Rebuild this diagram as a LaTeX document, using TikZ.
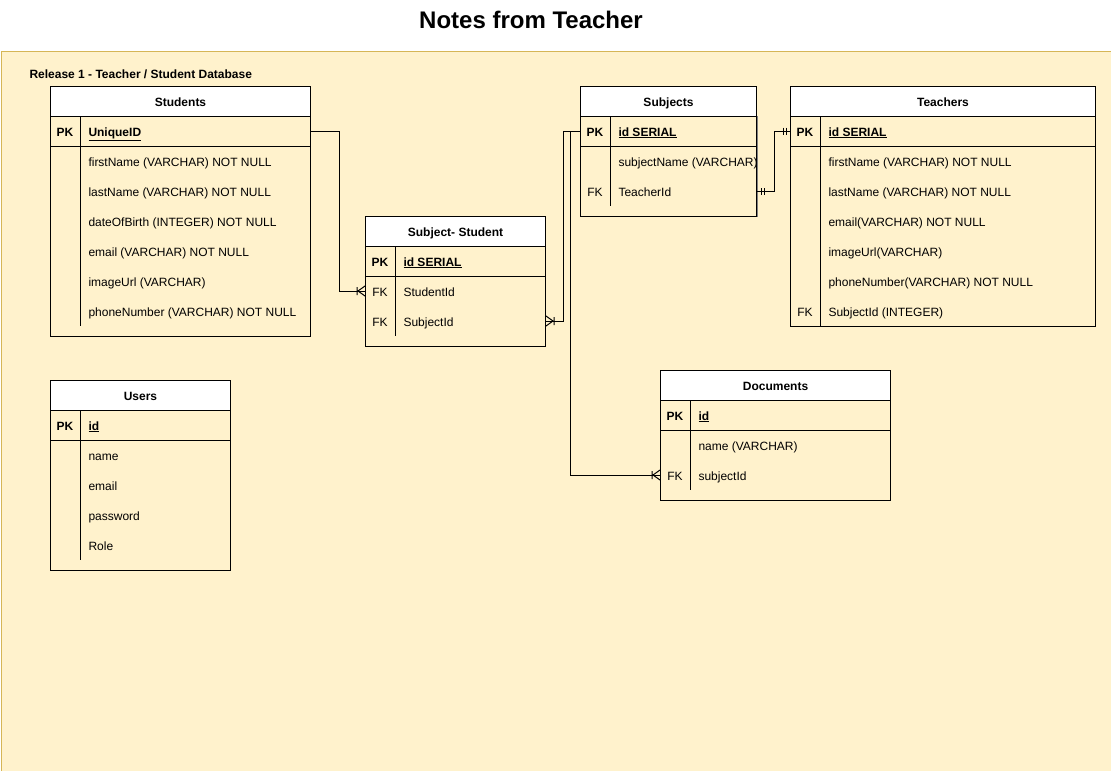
\documentclass[tikz,border=0pt]{standalone}
\usepackage{fontspec}
\setmainfont{Liberation Sans}

\definecolor{notefill}{HTML}{FFF2CC}
\definecolor{noteline}{HTML}{D6B656}
\definecolor{edgegray}{HTML}{808080}

\tikzset{
  crow/.pic={\draw (-7,0) -- (0,-5) (-7,0) -- (0,5) (-8,-4) -- (-8,4);},
  mandone/.pic={\draw (-4,-3.5) -- (-4,3.5) (-7,-3.5) -- (-7,3.5);}
}

\begin{document}
\begin{tikzpicture}[x=1pt,y=-1pt,line width=1pt]
\tikzstyle{head}=[draw,fill=white,anchor=north west,minimum height=30pt,inner sep=0pt,text height=10pt,text depth=0pt,font=\bfseries\fontsize{12}{14}\selectfont];
\tikzstyle{body}=[draw,anchor=north west,inner sep=0pt];
\tikzstyle{pk}=[inner sep=0pt,text height=10pt,text depth=0pt,font=\bfseries\fontsize{12}{14}\selectfont];
\tikzstyle{fk}=[inner sep=0pt,text height=10pt,text depth=0pt,font=\fontsize{12}{14}\selectfont];
\tikzstyle{field}=[anchor=west,inner sep=0pt,text height=10pt,text depth=0pt,font=\fontsize{12}{14}\selectfont];
\tikzstyle{pkfield}=[field,font=\bfseries\fontsize{12}{14}\selectfont];
\tikzstyle{rel}=[line cap=rect];

\useasboundingbox (0,0) rectangle (1111,771);

% title and note
\node[font=\bfseries\fontsize{24}{28}\selectfont] (title) at (531,20) {Notes from Teacher};
\node[draw=noteline,fill=notefill,anchor=north west,minimum width=1110pt,minimum height=720pt,inner sep=0pt] (note) at (0.5,50.5) {};
\node[pkfield] (release) at (29,73) {Release 1 - Teacher / Student Database};

% Students
\node[head,minimum width=260pt] (stuHead) at (50,86) {Students};
\node[body,minimum width=260pt,minimum height=220pt] (stuBody) at (50,116) {};
\draw (50,146) -- (310,146);
\draw (80,116) -- (80,326);
\node[pk] (stuK1) at (65,131) {PK};
\node[pkfield] (stuUid) at (88,131) {\underline{UniqueID}};
\node[field] (stuF1) at (88,161) {firstName (VARCHAR) NOT NULL};
\node[field] (stuF2) at (88,191) {lastName (VARCHAR) NOT NULL};
\node[field] (stuF3) at (88,221) {dateOfBirth (INTEGER) NOT NULL};
\node[field] (stuF4) at (88,251) {email (VARCHAR) NOT NULL};
\node[field] (stuF5) at (88,281) {imageUrl (VARCHAR)};
\node[field] (stuF6) at (88,311) {phoneNumber (VARCHAR) NOT NULL};

% Subject- Student
\node[head,minimum width=180pt] (ssHead) at (365,216) {Subject- Student};
\node[body,minimum width=180pt,minimum height=100pt] (ssBody) at (365,246) {};
\draw (365,276) -- (545,276);
\draw (395,246) -- (395,336);
\node[pk] (ssK1) at (380,261) {PK};
\node[pkfield] (ssId) at (403,261) {\underline{id SERIAL}};
\node[fk] (ssK2) at (380,291) {FK};
\node[field] (ssStu) at (403,291) {StudentId};
\node[fk] (ssK3) at (380,321) {FK};
\node[field] (ssSub) at (403,321) {SubjectId};

% Subjects
\node[head,minimum width=176pt] (subHead) at (580,86) {Subjects};
\node[body,minimum width=176pt,minimum height=100pt] (subBody) at (580,116) {};
\draw (580,146) -- (756,146);
\draw (610,116) -- (610,206);
\node[pk] (subK1) at (595,131) {PK};
\node[pkfield] (subPid) at (618,131) {\underline{id SERIAL}};
\node[field] (subF1) at (618,161) {subjectName (VARCHAR)};
\node[fk] (subK2) at (595,191) {FK};
\node[field] (subTid) at (618,191) {TeacherId};
\draw[edgegray] (subBody.north east) -- (subBody.south east);

% Teachers
\node[head,minimum width=305pt] (teaHead) at (790,86) {Teachers};
\node[body,minimum width=305pt,minimum height=210pt] (teaBody) at (790,116) {};
\draw (790,146) -- (1095,146);
\draw (820,116) -- (820,326);
\node[pk] (teaK1) at (805,131) {PK};
\node[pkfield] (teaPid) at (828,131) {\underline{id SERIAL}};
\node[field] (teaF1) at (828,161) {firstName (VARCHAR) NOT NULL};
\node[field] (teaF2) at (828,191) {lastName (VARCHAR) NOT NULL};
\node[field] (teaF3) at (828,221) {email(VARCHAR) NOT NULL};
\node[field] (teaF4) at (828,251) {imageUrl(VARCHAR)};
\node[field] (teaF5) at (828,281) {phoneNumber(VARCHAR) NOT NULL};
\node[fk] (teaK2) at (805,311) {FK};
\node[field] (teaSid) at (828,311) {SubjectId (INTEGER)};

% Documents
\node[head,minimum width=230pt] (docHead) at (660,370) {Documents};
\node[body,minimum width=230pt,minimum height=100pt] (docBody) at (660,400) {};
\draw (660,430) -- (890,430);
\draw (690,400) -- (690,490);
\node[pk] (docK1) at (675,415) {PK};
\node[pkfield] (docId) at (698,415) {\underline{id}};
\node[field] (docF1) at (698,445) {name (VARCHAR)};
\node[fk] (docK2) at (675,475) {FK};
\node[field] (docSid) at (698,475) {subjectId};

% Users
\node[head,minimum width=180pt] (usrHead) at (50,380) {Users};
\node[body,minimum width=180pt,minimum height=160pt] (usrBody) at (50,410) {};
\draw (50,440) -- (230,440);
\draw (80,410) -- (80,560);
\node[pk] (usrK1) at (65,425) {PK};
\node[pkfield] (usrId) at (88,425) {\underline{id}};
\node[field] (usrF1) at (88,455) {name};
\node[field] (usrF2) at (88,485) {email};
\node[field] (usrF3) at (88,515) {password};
\node[field] (usrF4) at (88,545) {Role};

% relations
\draw[rel] (stuUid -| stuBody.east) -- ++(28,0) |- (ssStu -| ssBody.west);
\pic at (ssStu -| ssBody.west) {crow};
\draw[rel] (subPid -| subBody.west) -- ++(-17,0) |- (ssSub -| ssBody.east);
\pic[rotate=180] at (ssSub -| ssBody.east) {crow};
\draw[rel] (subPid -| subBody.west) -- ++(-10,0) |- (docSid -| docBody.west);
\pic at (docSid -| docBody.west) {crow};
\draw[rel] (subTid -| subBody.east) -- ++(17,0) |- (teaPid -| teaBody.west);
\pic[rotate=180] at (subTid -| subBody.east) {mandone};
\pic at (teaPid -| teaBody.west) {mandone};
\end{tikzpicture}
\end{document}
